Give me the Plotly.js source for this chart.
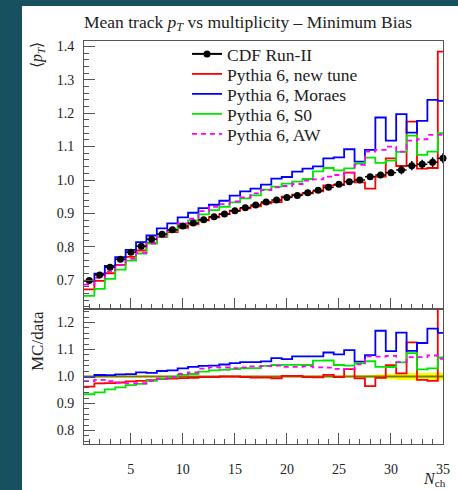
<!DOCTYPE html>
<html><head><meta charset="utf-8">
<script src="https://cdn.plot.ly/plotly-3.0.1.min.js"></script>
<style>
html,body{margin:0;padding:0;background:#17505e;width:458px;height:490px;overflow:hidden;}
#plot{position:absolute;left:22px;top:6px;width:436px;height:484px;background:#fff;}
</style></head><body><div id="plot"></div>
<script>
// N_ch bins
const nch = [1,2,3,4,5,6,7,8,9,10,11,12,13,14,15,16,17,18,19,20,21,22,23,24,25,26,27,28,29,30,31,32,33,34,35];
// CDF Run-II data
const cdf = [0.699,0.716,0.739,0.763,0.784,0.802,0.823,0.838,0.851,0.862,0.871,0.881,0.890,0.898,0.908,0.917,0.925,0.934,0.940,0.948,0.954,0.962,0.969,0.978,0.987,0.995,1.000,1.010,1.015,1.022,1.030,1.043,1.047,1.053,1.065];
const cdfErr = [0.002,0.002,0.002,0.002,0.002,0.002,0.002,0.002,0.002,0.002,0.002,0.002,0.002,0.002,0.002,0.002,0.002,0.002,0.002,0.002,0.003,0.003,0.003,0.003,0.003,0.004,0.005,0.006,0.008,0.010,0.013,0.014,0.014,0.015,0.015];
// Pythia 6, new tune
const newTune = [0.673,0.698,0.721,0.746,0.770,0.789,0.812,0.830,0.844,0.857,0.867,0.879,0.888,0.898,0.908,0.915,0.921,0.930,0.934,0.950,0.956,0.960,0.966,0.984,0.985,1.022,0.993,0.974,1.010,1.065,1.042,1.175,1.034,1.036,1.384];
// Pythia 6, Moraes
const moraes = [0.698,0.720,0.743,0.769,0.791,0.814,0.834,0.855,0.870,0.888,0.902,0.916,0.926,0.938,0.953,0.966,0.974,0.986,1.004,1.009,1.025,1.034,1.041,1.065,1.068,1.092,1.055,1.090,1.187,1.118,1.197,1.142,1.177,1.240,1.237];
// Pythia 6, S0
const s0 = [0.653,0.674,0.704,0.732,0.759,0.780,0.810,0.831,0.848,0.867,0.879,0.897,0.910,0.920,0.933,0.945,0.954,0.971,0.980,0.989,0.995,1.003,1.026,1.036,1.029,1.035,1.049,1.067,1.051,1.058,1.084,1.133,1.075,1.085,1.140];
// Pythia 6, AW
const aw = [0.687,0.707,0.726,0.745,0.764,0.782,0.810,0.831,0.850,0.870,0.884,0.907,0.920,0.928,0.936,0.948,0.960,0.970,0.978,0.982,0.988,0.998,1.002,1.010,1.015,1.022,1.045,1.085,1.090,1.100,1.085,1.118,1.122,1.135,1.135];

const edges = nch.map(v => v - 0.5).concat([nch[nch.length-1] + 0.5]);
const stepY = vals => vals.concat([vals[vals.length-1]]);
const ratio = vals => vals.map((v,i) => v / cdf[i]);

const mcs = [
  {name:'Pythia 6, new tune', vals:newTune, color:'#ff0000', dash:'solid', legend:'legend2'},
  {name:'Pythia 6, Moraes', vals:moraes, color:'#0000ff', dash:'solid', legend:'legend3'},
  {name:'Pythia 6, S0', vals:s0, color:'#00e600', dash:'solid', legend:'legend4'},
  {name:'Pythia 6, AW', vals:aw, color:'#ff00ff', dash:'5px,4px', legend:'legend5'}
];

const traces = [];
// ratio band (data uncertainty)
traces.push({x:edges, y:stepY(cdf.map((v,i)=>1 - cdfErr[i]/v)), xaxis:'x2', yaxis:'y2', mode:'lines',
  line:{shape:'hv', width:0, color:'rgba(0,0,0,0)'}, showlegend:false, hoverinfo:'skip'});
traces.push({x:edges, y:stepY(cdf.map((v,i)=>1 + cdfErr[i]/v)), xaxis:'x2', yaxis:'y2', mode:'lines',
  line:{shape:'hv', width:0, color:'rgba(0,0,0,0)'}, fill:'tonexty', fillcolor:'#ffff00', showlegend:false, hoverinfo:'skip'});
traces.push({x:edges, y:stepY(cdf.map(()=>1)), xaxis:'x2', yaxis:'y2', mode:'lines',
  line:{shape:'hv', width:2, color:'#7a7a00'}, showlegend:false, hoverinfo:'skip'});

// legend entry for data
traces.push({x:[null], y:[null], mode:'lines+markers', name:'CDF Run-II', legend:'legend',
  line:{color:'#000', width:2}, marker:{color:'#000', size:7}});

mcs.forEach(m => {
  traces.push({x:edges, y:stepY(m.vals), mode:'lines', name:m.name, legend:m.legend,
    line:{shape:'hv', color:m.color, width:1.8, dash:m.dash}});
  traces.push({x:edges, y:stepY(ratio(m.vals)), xaxis:'x2', yaxis:'y2', mode:'lines', showlegend:false,
    line:{shape:'hv', color:m.color, width:1.8, dash:m.dash}});
});

// data points
traces.push({x:nch, y:cdf, mode:'markers', showlegend:false, cliponaxis:false,
  marker:{color:'#000', size:7},
  error_y:{type:'data', array:cdfErr, visible:true, color:'#000', thickness:1.5, width:0},
  error_x:{type:'constant', value:0.5, visible:true, color:'#000', thickness:1.5, width:0}});

const axCol = '#555';
const fontFam = 'Liberation Serif, serif';
const tickFont = {family:fontFam, size:14, color:'#222'};
const commonX = {range:[0.5,35], dtick:5, tick0:0, ticks:'inside', ticklen:11, tickcolor:axCol, tickwidth:1,
  minor:{dtick:1, ticklen:5, ticks:'inside', tickcolor:axCol}, showline:true, mirror:true, linecolor:axCol,
  linewidth:1, showgrid:false, zeroline:false, tickfont:tickFont};
const commonY = {dtick:0.1, tick0:0, tickformat:'.1f', ticks:'inside', ticklen:11, tickcolor:axCol, tickwidth:1,
  minor:{dtick:0.02, ticklen:5, ticks:'inside', tickcolor:axCol}, showline:true, mirror:true, linecolor:axCol,
  linewidth:1, showgrid:false, zeroline:false, ticklabelstandoff:6, tickfont:tickFont};

const legX = 0.287;
const legBase = {x:legX, xanchor:'left', yanchor:'middle', bgcolor:'rgba(0,0,0,0)',
  font:{family:fontFam, size:17.5, color:'#222'}, itemwidth:30, borderwidth:0};
const legRows = [0.9677, 0.9181, 0.8685, 0.8189, 0.7692];

const layout = {
  width:436, height:484,
  margin:{l:62, r:15, t:35, b:46},
  paper_bgcolor:'#fff', plot_bgcolor:'#fff',
  font:{family:fontFam, color:'#222', size:14},
  title:{text:'Mean track <i>p</i><sub><i>T</i></sub> vs multiplicity – Minimum Bias',
    x:0, xref:'paper', xanchor:'left', y:0.9676, yref:'container', yanchor:'middle',
    font:{family:fontFam, size:17.5, color:'#222'}},
  xaxis:Object.assign({}, commonX, {domain:[0,1], anchor:'y', showticklabels:false}),
  xaxis2:Object.assign({}, commonX, {domain:[0,1], anchor:'y2', matches:'x', showticklabels:true,
    ticklabelstandoff:12}),
  yaxis:Object.assign({}, commonY, {domain:[0.335,1], anchor:'x', range:[0.614,1.416]}),
  yaxis2:Object.assign({}, commonY, {domain:[0,0.335], anchor:'x2', range:[0.75,1.25]}),
  showlegend:true,
  legend:Object.assign({}, legBase, {y:legRows[0]}),
  legend2:Object.assign({}, legBase, {y:legRows[1]}),
  legend3:Object.assign({}, legBase, {y:legRows[2]}),
  legend4:Object.assign({}, legBase, {y:legRows[3]}),
  legend5:Object.assign({}, legBase, {y:legRows[4]}),
  annotations:[
    {text:'⟨<i>p</i><sub><i>T</i></sub>⟩', textangle:-90, xref:'paper', x:0, xshift:-47, xanchor:'center',
     yref:'paper', y:1, yanchor:'top', yshift:1, showarrow:false, font:{family:fontFam, size:16, color:'#222'}},
    {text:'MC/data', textangle:-90, xref:'paper', x:0, xshift:-46, xanchor:'center',
     yref:'paper', y:0.335, yanchor:'top', showarrow:false, font:{family:fontFam, size:17, color:'#222'}},
    {text:'<i>N</i><sub>ch</sub>', xref:'paper', x:1, xanchor:'right', xshift:5,
     yref:'paper', y:0, yanchor:'middle', yshift:-35, showarrow:false, font:{family:fontFam, size:16, color:'#222'}}
  ]
};

Plotly.newPlot('plot', traces, layout, {displayModeBar:false, staticPlot:true});
</script></body></html>
